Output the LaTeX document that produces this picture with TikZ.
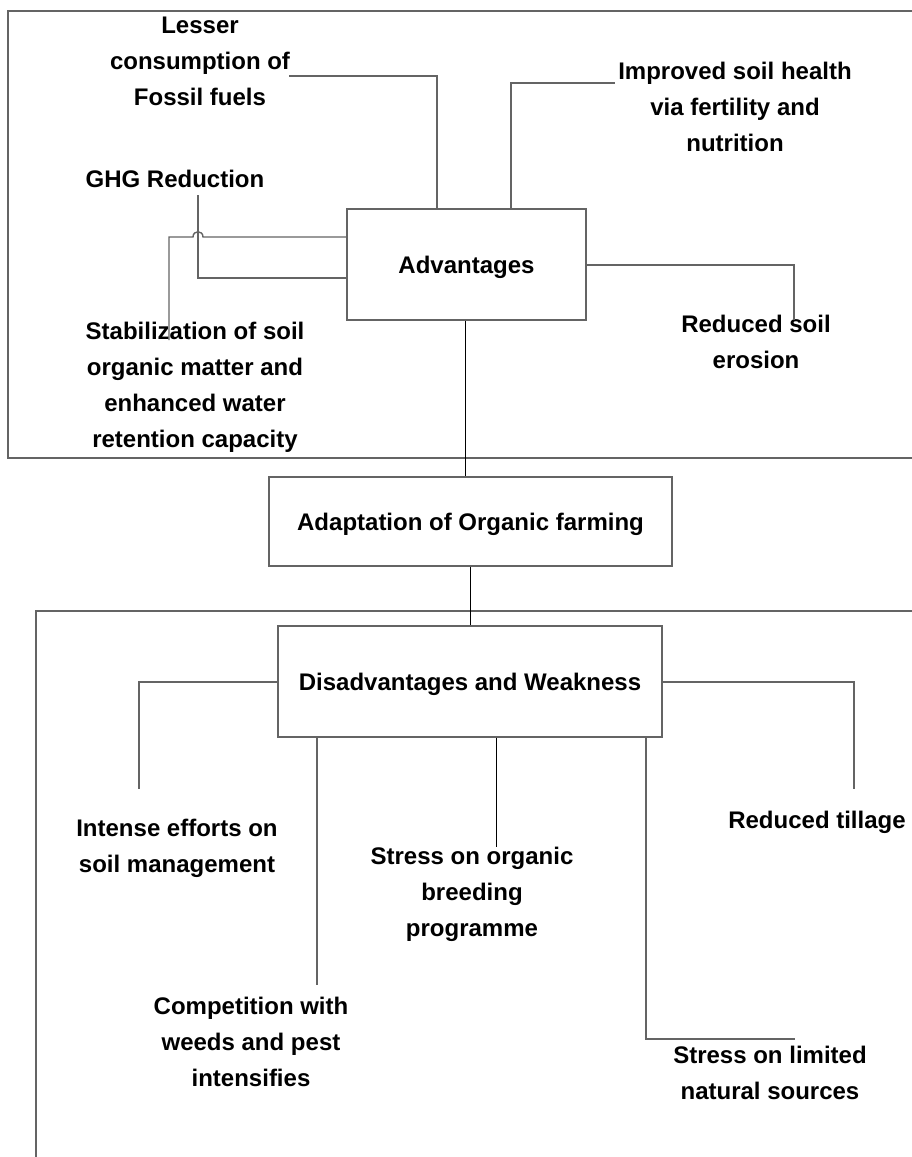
\documentclass[tikz,border=0pt]{standalone}
\usepackage{fontspec}
\setmainfont{Liberation Sans}
\definecolor{linec}{RGB}{100,100,100}
\begin{document}
\begin{tikzpicture}[x=1pt,y=-1pt,
  lbl/.style={font=\fontsize{24}{36}\selectfont\bfseries, align=center, inner sep=0pt},
  boxnode/.style={draw=linec, line width=1.4pt, font=\fontsize{24}{36}\selectfont\bfseries, inner sep=0pt, text height=17pt, text depth=0pt},
  conn/.style={draw=linec, line width=1.4pt},
  thinconn/.style={draw=black, line width=1pt},
  frame/.style={draw=linec, line width=1.6pt}]
\path[use as bounding box, clip] (0,0) rectangle (912,1157);
\fill[white] (0,0) rectangle (912,1157);
% frames
\draw[frame] (8,11) rectangle (940,458);
\draw[frame] (36,611) rectangle (940,1190);
% boxes
\node[boxnode, minimum width=239pt, minimum height=111pt] (adv) at (466.5,264.5) {Advantages};
\node[boxnode, minimum width=403pt, minimum height=89pt] (adapt) at (470.5,521.5) {Adaptation of Organic farming};
\node[boxnode, minimum width=384pt, minimum height=111pt] (dis) at (470,681.5) {Disadvantages and Weakness};
% labels
\node[lbl] (lesser) at (200,61) {Lesser\\consumption of\\Fossil fuels};
\node[lbl] (ghg) at (175,179) {GHG Reduction};
\node[lbl] (soilh) at (735,107) {Improved soil health\\via fertility and\\nutrition};
\node[lbl] (eros) at (756,342) {Reduced soil\\erosion};
\node[lbl] (stab) at (195,387) {Stabilization of soil\\organic matter and\\enhanced water\\retention capacity};
\node[lbl] (intense) at (177,848) {Intense efforts on\\soil management};
\node[lbl] (breed) at (472,894) {Stress on organic\\breeding\\programme};
\node[lbl] (till) at (817,822) {Reduced tillage};
\node[lbl] (comp) at (251,1042) {Competition with\\weeds and pest\\intensifies};
\node[lbl] (limit) at (770,1073) {Stress on limited\\natural sources};
% free ends
\coordinate (cLesser) at (289,76);
\coordinate (cSoil) at (615,83);
\coordinate (cGhg) at (198,195);
\coordinate (cStab) at (169,340);
\coordinate (cEros) at (794,320);
\coordinate (cIntense) at (139,789);
\coordinate (cTill) at (854,789);
\coordinate (cComp) at (317,985);
\coordinate (cBreed) at (496,847);
\coordinate (cLimit) at (795,1039);
% advantages connectors
\draw[conn] (cLesser) -- (437,76) -- (adv.north -| 437,0);
\draw[conn] (adv.north -| 511,0) -- (511,83) -- (cSoil);
\draw[conn] (cGhg) -- (198,278) -- (adv.west |- 0,278);
\draw[conn] (cStab) -- (169,237) -- (193,237) .. controls (193,230) and (203,230) .. (203,237) -- (adv.west |- 0,237);
\draw[conn] (adv.east |- 0,265) -- (794,265) -- (cEros);
% spine
\draw[thinconn] (adv.south -| 465,0) -- (adapt.north -| 465,0);
\draw[thinconn] (adapt.south -| 470,0) -- (dis.north -| 470,0);
% disadvantages connectors
\draw[conn] (dis.west |- 0,682) -- (139,682) -- (cIntense);
\draw[conn] (dis.east |- 0,682) -- (854,682) -- (cTill);
\draw[conn] (dis.south -| 317,0) -- (cComp);
\draw[thinconn] (dis.south -| 496,0) -- (cBreed);
\draw[conn] (dis.south -| 646,0) -- (646,1039) -- (cLimit);
\end{tikzpicture}
\end{document}
